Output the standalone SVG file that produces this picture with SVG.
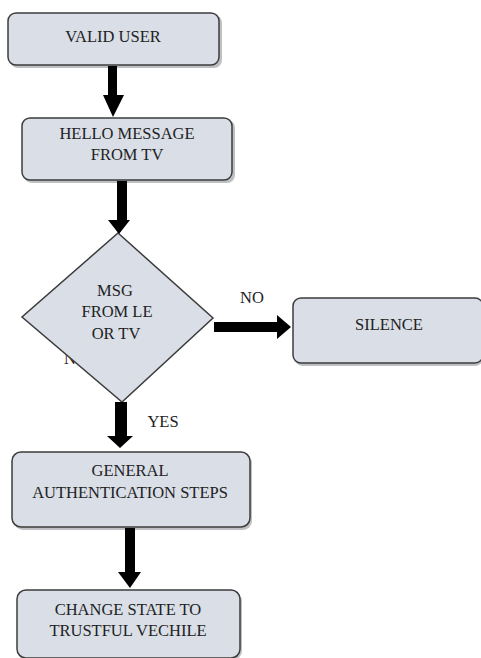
<svg xmlns="http://www.w3.org/2000/svg" width="481" height="658" viewBox="0 0 481 658">
<style>
.box{fill:#d9dee7;stroke:#3c3c3c;stroke-width:1.5}
.sh{fill:#8a8d92;opacity:0.55}
.t{font-family:"Liberation Serif","Times New Roman",serif;font-size:16.5px;fill:#222;text-anchor:middle}
.arr{fill:#000}
</style>
<rect width="481" height="658" fill="#fff"/>
<text class="t" x="70" y="364">N</text>
<g id="valid-user">
<rect class="sh" x="10" y="15" width="212" height="53" rx="8"/>
<rect class="box" x="8" y="13" width="211" height="52" rx="8"/>
<text class="t" x="113" y="42">VALID USER</text>
</g>
<g id="hello">
<rect class="sh" x="24" y="120" width="211" height="63" rx="8"/>
<rect class="box" x="22" y="118" width="210" height="62" rx="8"/>
<text class="t" x="127" y="139">HELLO MESSAGE</text>
<text class="t" x="127" y="160">FROM TV</text>
</g>
<g id="decision">
<polygon class="box" points="118,233 213,318 122,402 22,317"/>
<text class="t" x="115" y="296">MSG</text>
<text class="t" x="117" y="317">FROM LE</text>
<text class="t" x="116" y="339">OR TV</text>
</g>
<g id="silence">
<rect class="sh" x="295" y="300" width="188" height="66" rx="8"/>
<rect class="box" x="293" y="298" width="190" height="65" rx="8"/>
<text class="t" x="389" y="330">SILENCE</text>
</g>
<g id="general">
<rect class="sh" x="14" y="454" width="238" height="76" rx="9"/>
<rect class="box" x="12" y="452" width="238" height="75" rx="9"/>
<text class="t" x="130" y="476">GENERAL</text>
<text class="t" x="130" y="498">AUTHENTICATION STEPS</text>
</g>
<g id="change">
<rect class="sh" x="19" y="592" width="223" height="68" rx="9"/>
<rect class="box" x="17" y="590" width="223" height="68" rx="9"/>
<text class="t" x="128" y="615">CHANGE STATE TO</text>
<text class="t" x="128" y="636">TRUSTFUL VECHILE</text>
</g>
<g id="connectors">
<polygon class="arr" points="108,66 117,66 117,95 124,95 113,117 103,95 108,95"/>
<polygon class="arr" points="117,181 127,181 127,220 130,220 119,234 108,220 117,220"/>
<polygon class="arr" points="214,322 277,322 277,315 291,327 277,339 277,332 214,332"/>
<polygon class="arr" points="115,402 127,402 127,436 133,436 120,448 107,436 115,436"/>
<polygon class="arr" points="125,528 135,528 135,572 141,572 130,588 118,572 125,572"/>
<text class="t" x="252" y="303">NO</text>
<text class="t" x="163" y="427">YES</text>
</g>
</svg>
